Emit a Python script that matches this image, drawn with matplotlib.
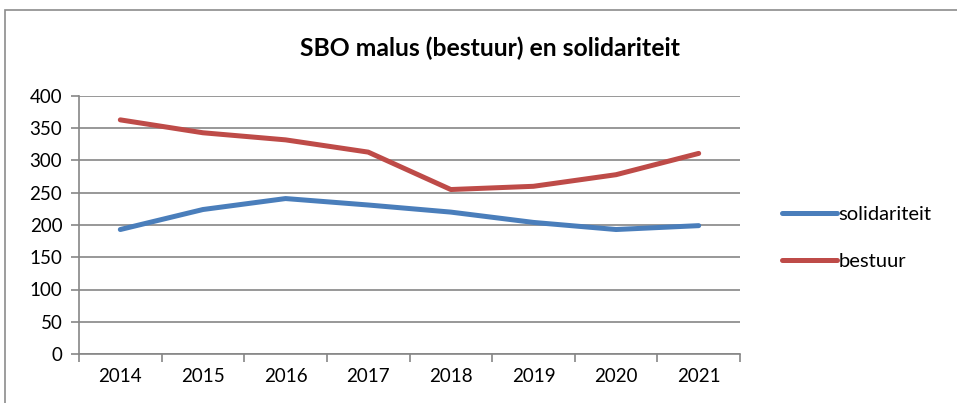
import matplotlib
matplotlib.use("Agg")
import matplotlib.pyplot as plt
from matplotlib.patches import Rectangle

# data
jaren = ["2014", "2015", "2016", "2017", "2018", "2019", "2020", "2021"]
solidariteit = [193, 224, 241, 231, 220, 204, 193, 199]
bestuur = [363, 343, 332, 313, 255, 260, 278, 311]
y_ticks = [0, 50, 100, 150, 200, 250, 300, 350, 400]

W, H = 957, 403
fig = plt.figure(figsize=(W / 100, H / 100), dpi=100)
plt.rcParams['font.family'] = ['Lato', 'DejaVu Sans']

# outer chart border (Excel style)
fig.patches.append(Rectangle((5 / W, -0.1), 1.1, (H - 10) / H + 0.1,
                             transform=fig.transFigure, fill=False,
                             edgecolor="#8c8c8c", linewidth=1.2))

left, right, top, bottom = 79, 740, 96, 354
ax = fig.add_axes([left / W, (H - bottom) / H, (right - left) / W, (bottom - top) / H])

x = list(range(len(jaren)))
ax.plot(x, solidariteit, color="#4A7EBB", linewidth=3.6, label="solidariteit",
        solid_capstyle="round")
ax.plot(x, bestuur, color="#BE4B48", linewidth=3.6, label="bestuur",
        solid_capstyle="round")

ax.set_xlim(-0.5, len(jaren) - 0.5)
ax.set_ylim(0, 400)
ax.set_yticks(y_ticks)
ax.set_xticks([i - 0.5 for i in range(len(jaren) + 1)], minor=False)
ax.set_xticklabels([])
ax.set_xticks(x, minor=True)
ax.set_xticklabels(jaren, minor=True)
ax.tick_params(axis="x", which="minor", length=0, pad=10, labelsize=13.5)
ax.tick_params(axis="x", which="major", length=6, color="#868686", width=1.2)
ax.tick_params(axis="y", length=6, color="#868686", width=1.2, labelsize=13.5, pad=6)

ax.grid(axis="y", color="#868686", linewidth=1.2)
ax.set_axisbelow(True)
for s in ["top", "right"]:
    ax.spines[s].set_visible(False)
for s in ["left", "bottom"]:
    ax.spines[s].set_color("#868686")
    ax.spines[s].set_linewidth(1.2)

fig.text(490 / W, 1 - 48 / H, "SBO malus (bestuur) en solidariteit",
         ha="center", va="center", fontsize=17.8, fontweight="bold")

leg = ax.legend(loc="center left", bbox_to_anchor=(764 / W, 1 - 238 / H),
                bbox_transform=fig.transFigure, frameon=False, fontsize=14.5,
                handlelength=2.7, handletextpad=0.1, labelspacing=1.5)

fig.savefig("out.png", dpi=100)
